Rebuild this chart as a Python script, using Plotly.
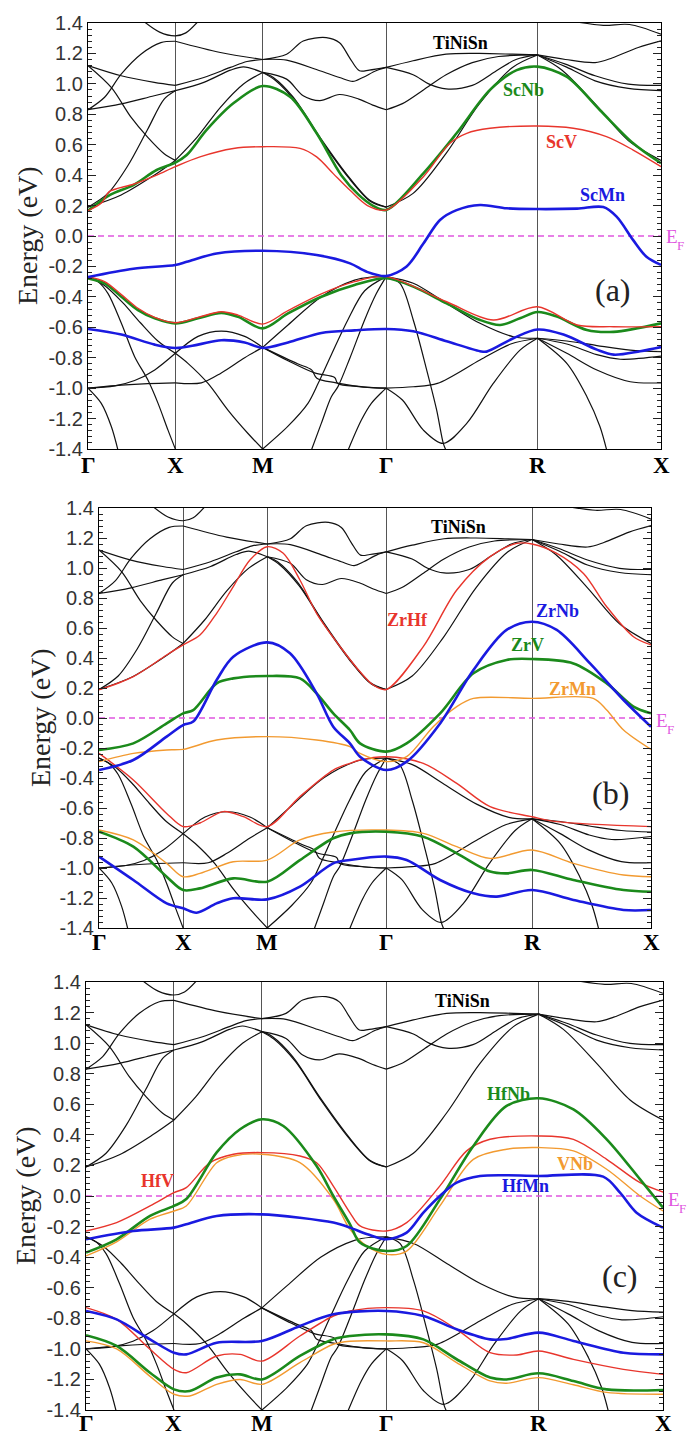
import plotly.graph_objects as go

# ---------------- high-symmetry path ----------------
K_G, K_X, K_M, K_G2, K_R, K_X2 = 0.0, 0.5, 1.0, 1.7071, 2.5731, 3.2802
KPOINT_POS = [K_G, K_X, K_M, K_G2, K_R, K_X2]
KPOINT_LABELS = ["Γ", "X", "M", "Γ", "R", "X"]
ENERGY_TICKS = [1.4, 1.2, 1.0, 0.8, 0.6, 0.4, 0.2, 0.0, -0.2, -0.4, -0.6, -0.8, -1.0, -1.2, -1.4]
ENERGY_TICK_LABELS = ["1.4", "1.2", "1.0", "0.8", "0.6", "0.4", "0.2", "0.0",
                      "-0.2", "-0.4", "-0.6", "-0.8", "-1.0", "-1.2", "-1.4"]

# ---------------- TiNiSn reference bands (k, E) ----------------
tin_gx_a = [(0, 1.12), (0.19, 1.053), (0.379, 1.01), (0.5, 0.99)]
tin_gx_b = [(0, 1.12), (0.133, 0.977), (0.246, 0.781), (0.341, 0.65), (0.436, 0.541), (0.5, 0.497)]
tin_gx_c = [(0, 0.83), (0.095, 0.912), (0.19, 1.064), (0.303, 1.195), (0.417, 1.271), (0.5, 1.28)]
tin_gx_d = [(0, 0.83), (0.19, 0.868), (0.379, 0.922), (0.5, 0.955)]
tin_gx_e = [(0, 0.19), (0.114, 0.28), (0.227, 0.46), (0.341, 0.70), (0.436, 0.90), (0.5, 0.955)]
tin_gx_f = [(0, 0.19), (0.19, 0.27), (0.379, 0.40), (0.5, 0.497)]
tin_x_top = [(0.32, 1.41), (0.41, 1.34), (0.5, 1.315), (0.56, 1.335), (0.63, 1.41)]
tin_gx_g = [(0, -0.267), (0.1, -0.33), (0.2, -0.44), (0.3, -0.57), (0.4, -0.69), (0.5, -0.771)]
tin_gx_h = [(0, -0.267), (0.057, -0.30), (0.114, -0.377), (0.191, -0.574), (0.267, -0.793),
            (0.343, -0.947), (0.401, -1.1), (0.458, -1.276), (0.5, -1.4)]
tin_gx_i = [(0, -1.0), (0.153, -0.985), (0.267, -0.95), (0.382, -0.88), (0.5, -0.771)]
tin_gx_j = [(0, -1.0), (0.191, -0.98), (0.343, -0.97), (0.5, -0.965)]
tin_gx_k = [(0, -1.0), (0.076, -1.1), (0.134, -1.254), (0.172, -1.41)]

tin_xm_a = [(0.5, 1.28), (0.758, 1.206), (1.0, 1.16)]
tin_xm_b = [(0.5, 0.99), (0.663, 1.042), (0.815, 1.108), (0.91, 1.147), (1.0, 1.16)]
tin_xm_c = [(0.5, 0.955), (0.663, 1.01), (0.815, 1.09), (0.89, 1.112), (1.0, 1.075)]
tin_xm_d = [(0.5, 0.497), (0.625, 0.65), (0.758, 0.846), (0.89, 0.999), (1.0, 1.075)]
tin_xm_e = [(0.5, -0.771), (0.63, -0.66), (0.763, -0.625), (0.897, -0.66), (1.0, -0.732)]
tin_xm_f = [(0.5, -0.771), (0.572, -0.837), (0.687, -0.969), (0.801, -1.144), (0.916, -1.298), (1.0, -1.4)]
tin_xm_g = [(0.5, -0.965), (0.649, -0.965), (0.763, -0.90), (0.897, -0.80), (1.0, -0.732)]

tin_mg_a = [(1.0, 1.16), (1.137, 1.195), (1.232, 1.282), (1.364, 1.304), (1.44, 1.27),
            (1.497, 1.173), (1.554, 1.086), (1.61, 1.09), (1.7071, 1.108)]
tin_mg_b = [(1.0, 1.16), (1.137, 1.156), (1.327, 1.086), (1.44, 1.042), (1.516, 1.016),
            (1.573, 1.042), (1.649, 1.086), (1.7071, 1.108)]
tin_mg_c = [(1.0, 1.075), (1.137, 1.031), (1.232, 0.922), (1.327, 0.89), (1.44, 0.93),
            (1.55, 0.90), (1.63, 0.86), (1.7071, 0.83)]
tin_mg_d = [(1.0, 1.075), (1.061, 1.042), (1.175, 0.912), (1.327, 0.65), (1.478, 0.41),
            (1.611, 0.236), (1.7071, 0.19)]
tin_mg_e = [(1.0, 1.075), (1.07, 1.025), (1.19, 0.88), (1.34, 0.62), (1.49, 0.385),
            (1.62, 0.225), (1.7071, 0.19)]
tin_mg_f = [(1.0, -0.732), (1.145, -0.585), (1.336, -0.399), (1.526, -0.29), (1.62, -0.27), (1.7071, -0.267)]
tin_mg_h = [(1.0, -0.732), (1.145, -0.82), (1.297, -0.9), (1.412, -0.93), (1.43, -0.97),
            (1.55, -0.99), (1.7071, -1.0)]
tin_mg_i = [(1.0, -0.732), (1.2, -0.84), (1.28, -0.88), (1.31, -0.935), (1.42, -0.965),
            (1.6, -0.995), (1.7071, -1.0)]
tin_mg_j = [(1.0, -1.4), (1.145, -1.25), (1.259, -1.1), (1.317, -0.97), (1.393, -0.78),
            (1.488, -0.55), (1.584, -0.36), (1.7071, -0.267)]
tin_mg_k = [(1.278, -1.41), (1.336, -1.23), (1.393, -1.056), (1.431, -0.99), (1.5, -0.8),
            (1.584, -0.55), (1.65, -0.38), (1.7071, -0.267)]
tin_mg_l = [(1.488, -1.41), (1.565, -1.21), (1.622, -1.1), (1.679, -1.03), (1.7071, -1.0)]

tin_gr_a = [(1.7071, 1.108), (1.861, 1.152), (2.05, 1.195), (2.24, 1.2), (2.43, 1.195), (2.5731, 1.19)]
tin_gr_b = [(1.7071, 1.108), (1.861, 1.06), (1.95, 1.0), (2.05, 0.967), (2.2, 0.99), (2.33, 1.08),
            (2.45, 1.16), (2.5731, 1.19)]
tin_gr_c = [(1.7071, 0.83), (1.80, 0.87), (1.92, 0.96), (2.05, 1.06), (2.2, 1.14), (2.35, 1.18), (2.5731, 1.19)]
tin_gr_d = [(1.7071, 0.19), (1.861, 0.28), (2.05, 0.543), (2.24, 0.868), (2.43, 1.108), (2.5731, 1.19)]
tin_gr_e = [(1.7071, -0.267), (1.862, -0.311), (2.053, -0.443), (2.244, -0.574), (2.435, -0.662), (2.5731, -0.672)]
tin_gr_f = [(1.7071, -0.267), (1.786, -0.311), (1.862, -0.552), (1.939, -0.881), (1.996, -1.144),
            (2.034, -1.363), (2.05, -1.41)]
tin_gr_g = [(1.7071, -1.0), (1.80, -1.078), (1.92, -1.276), (2.034, -1.363), (2.168, -1.232),
            (2.32, -0.969), (2.473, -0.75), (2.5731, -0.672)]
tin_gr_h = [(1.7071, -1.0), (1.862, -0.991), (2.0, -0.969), (2.244, -0.815), (2.42, -0.71), (2.5731, -0.672)]

tin_rx_a = [(2.5731, 1.19), (2.733, 1.16), (2.903, 1.14), (3.0, 1.17), (3.15, 1.239), (3.2802, 1.282)]
tin_rx_b = [(2.5731, 1.19), (2.733, 1.13), (2.903, 1.053), (3.093, 0.998), (3.2802, 0.99)]
tin_rx_c = [(2.5731, 1.19), (2.74, 1.11), (2.903, 1.02), (3.093, 0.97), (3.2802, 0.955)]
tin_rx_d = [(2.5731, 1.19), (2.714, 1.09), (2.903, 0.868), (3.093, 0.628), (3.2802, 0.497)]
tin_rx_top = [(2.78, 1.41), (2.95, 1.385), (3.1, 1.39), (3.2802, 1.326)]
tin_rx_e = [(2.5731, -0.672), (2.741, -0.69), (2.913, -0.72), (3.104, -0.75), (3.2802, -0.76)]
tin_rx_f = [(2.5731, -0.672), (2.741, -0.71), (2.913, -0.78), (3.047, -0.81), (3.2802, -0.79)]
tin_rx_g = [(2.5731, -0.672), (2.741, -0.771), (2.913, -0.881), (3.104, -0.958), (3.2802, -0.965)]
tin_rx_h = [(2.5731, -0.672), (2.741, -0.837), (2.856, -1.056), (2.93, -1.25), (2.97, -1.41)]

TINISN_BANDS = [tin_gx_a, tin_gx_b, tin_gx_c, tin_gx_d, tin_gx_e, tin_gx_f, tin_x_top,
                tin_gx_g, tin_gx_h, tin_gx_i, tin_gx_j, tin_gx_k,
                tin_xm_a, tin_xm_b, tin_xm_c, tin_xm_d, tin_xm_e, tin_xm_f, tin_xm_g,
                tin_mg_a, tin_mg_b, tin_mg_c, tin_mg_d, tin_mg_e, tin_mg_f, tin_mg_h,
                tin_mg_i, tin_mg_j, tin_mg_k, tin_mg_l,
                tin_gr_a, tin_gr_b, tin_gr_c, tin_gr_d, tin_gr_e, tin_gr_f, tin_gr_g, tin_gr_h,
                tin_rx_a, tin_rx_b, tin_rx_c, tin_rx_d, tin_rx_top, tin_rx_e, tin_rx_f, tin_rx_g, tin_rx_h]

# ---------------- panel (a): Sc-based ----------------
scnb_up = [(0, 0.166), (0.126, 0.27), (0.26, 0.335), (0.393, 0.434), (0.5, 0.482), (0.565, 0.532),
           (0.679, 0.697), (0.832, 0.872), (1.0, 0.986), (1.156, 0.916), (1.309, 0.675), (1.45, 0.40),
           (1.55, 0.27), (1.63, 0.2), (1.7071, 0.171), (1.92, 0.412), (2.11, 0.675), (2.301, 0.96),
           (2.454, 1.09), (2.5731, 1.113), (2.74, 1.047), (2.93, 0.828), (3.121, 0.609), (3.2802, 0.478)]
scnb_lo = [(0, -0.278), (0.095, -0.311), (0.191, -0.399), (0.286, -0.487), (0.382, -0.541), (0.5, -0.574),
           (0.63, -0.541), (0.763, -0.505), (0.859, -0.531), (1.0, -0.607), (1.145, -0.509), (1.336, -0.399),
           (1.526, -0.322), (1.7071, -0.278), (1.862, -0.333), (2.053, -0.443), (2.244, -0.552),
           (2.359, -0.585), (2.473, -0.541), (2.5731, -0.50), (2.684, -0.53), (2.856, -0.618),
           (3.009, -0.63), (3.2802, -0.574)]
scv_up = [(0, 0.166), (0.08, 0.22), (0.12, 0.29), (0.26, 0.34), (0.393, 0.40), (0.5, 0.456), (0.641, 0.52),
          (0.832, 0.575), (1.0, 0.587), (1.214, 0.576), (1.309, 0.52), (1.404, 0.41), (1.5, 0.30),
          (1.6, 0.2), (1.7071, 0.171), (1.92, 0.39), (2.072, 0.61), (2.168, 0.675), (2.301, 0.708),
          (2.5731, 0.723), (2.778, 0.708), (2.968, 0.653), (3.121, 0.565), (3.2802, 0.456)]
scv_lo = [(0, -0.267), (0.095, -0.30), (0.191, -0.385), (0.286, -0.475), (0.382, -0.535), (0.5, -0.57),
          (0.63, -0.535), (0.763, -0.498), (0.859, -0.52), (1.0, -0.579), (1.145, -0.49), (1.336, -0.38),
          (1.526, -0.30), (1.7071, -0.267), (2.053, -0.432), (2.32, -0.552), (2.5731, -0.465),
          (2.80, -0.585), (3.009, -0.596), (3.2802, -0.596)]
scmn_up = [(0, -0.27), (0.26, -0.215), (0.5, -0.19), (0.565, -0.17), (0.736, -0.115), (1.0, -0.097),
           (1.309, -0.125), (1.5, -0.18), (1.595, -0.235), (1.7071, -0.263), (1.824, -0.2), (1.92, -0.05),
           (2.015, 0.105), (2.11, 0.17), (2.244, 0.204), (2.397, 0.182), (2.5731, 0.177), (2.80, 0.18),
           (2.95, 0.19), (3.026, 0.127), (3.121, -0.027), (3.197, -0.136), (3.2802, -0.19)]
scmn_lo = [(0, -0.611), (0.191, -0.648), (0.382, -0.714), (0.5, -0.736), (0.63, -0.714), (0.763, -0.685),
           (0.897, -0.70), (1.0, -0.736), (1.145, -0.70), (1.336, -0.637), (1.526, -0.62), (1.7071, -0.611),
           (1.862, -0.626), (2.053, -0.692), (2.244, -0.757), (2.282, -0.76), (2.435, -0.672),
           (2.5731, -0.615), (2.722, -0.648), (2.913, -0.747), (3.009, -0.78), (3.161, -0.757), (3.2802, -0.73)]

# ---------------- panel (b): Zr-based ----------------
zrhf_up = [(0, 0.187), (0.204, 0.276), (0.402, 0.42), (0.5, 0.487), (0.6, 0.553), (0.699, 0.698),
           (0.798, 0.876), (0.897, 1.053), (1.0, 1.142), (1.095, 1.098), (1.194, 0.92), (1.293, 0.698),
           (1.45, 0.45), (1.55, 0.31), (1.63, 0.22), (1.7071, 0.19), (1.927, 0.476), (2.126, 0.853),
           (2.324, 1.076), (2.482, 1.164), (2.5731, 1.16), (2.72, 1.098), (2.879, 0.964), (3.017, 0.742),
           (3.176, 0.542), (3.2802, 0.487)]
zrhf_lo = [(0, -0.236), (0.204, -0.413), (0.402, -0.636), (0.5, -0.724), (0.6, -0.70), (0.739, -0.624),
           (0.858, -0.658), (1.0, -0.724), (1.194, -0.524), (1.392, -0.347), (1.491, -0.302), (1.55, -0.28),
           (1.7071, -0.258), (1.927, -0.302), (2.126, -0.436), (2.324, -0.591), (2.5731, -0.658),
           (2.72, -0.691), (3.2802, -0.724)]
zrnb_up = [(0, -0.347), (0.204, -0.28), (0.402, -0.124), (0.5, -0.047), (0.56, -0.024), (0.699, 0.253),
           (0.798, 0.409), (1.0, 0.504), (1.135, 0.431), (1.293, 0.164), (1.392, -0.058), (1.491, -0.169),
           (1.551, -0.258), (1.7071, -0.347), (1.828, -0.291), (2.027, -0.036), (2.225, 0.32), (2.422, 0.587),
           (2.5731, 0.642), (2.72, 0.587), (2.918, 0.364), (3.117, 0.12), (3.2802, -0.058)]
zrnb_lo = [(0, -0.924), (0.204, -1.08), (0.402, -1.236), (0.5, -1.269), (0.58, -1.298), (0.699, -1.236),
           (0.798, -1.202), (1.0, -1.209), (1.194, -1.124), (1.392, -0.969), (1.491, -0.947), (1.7071, -0.924),
           (1.828, -0.947), (2.027, -1.08), (2.225, -1.169), (2.363, -1.191), (2.5731, -1.147),
           (2.819, -1.213), (3.117, -1.28), (3.2802, -1.28)]
zrv_up = [(0, -0.213), (0.204, -0.169), (0.402, -0.036), (0.5, 0.031), (0.56, 0.053), (0.699, 0.231),
          (0.798, 0.264), (1.0, 0.28), (1.194, 0.264), (1.293, 0.164), (1.392, 0.031), (1.491, -0.08),
          (1.551, -0.169), (1.7071, -0.224), (1.828, -0.169), (2.027, 0.031), (2.225, 0.298), (2.422, 0.387),
          (2.5731, 0.393), (2.819, 0.364), (3.017, 0.231), (3.176, 0.076), (3.2802, 0.031)]
zrv_lo = [(0, -0.758), (0.204, -0.858), (0.402, -1.058), (0.5, -1.147), (0.6, -1.136), (0.798, -1.069),
          (1.0, -1.091), (1.194, -0.947), (1.392, -0.802), (1.491, -0.769), (1.7071, -0.758), (1.927, -0.791),
          (2.126, -0.902), (2.324, -1.024), (2.422, -1.036), (2.5731, -1.013), (2.819, -1.08),
          (3.117, -1.147), (3.2802, -1.158)]
zrmn_up = [(0, -0.291), (0.204, -0.236), (0.402, -0.213), (0.5, -0.209), (0.699, -0.147), (1.0, -0.124),
           (1.293, -0.147), (1.491, -0.191), (1.551, -0.236), (1.7071, -0.291), (1.828, -0.258),
           (1.986, -0.058), (2.126, 0.076), (2.225, 0.131), (2.5731, 0.131), (2.937, 0.131), (3.017, 0.053),
           (3.117, -0.08), (3.2802, -0.209)]
zrmn_lo = [(0, -0.747), (0.204, -0.813), (0.402, -0.969), (0.5, -1.058), (0.6, -1.036), (0.798, -0.958),
           (1.0, -0.947), (1.194, -0.813), (1.392, -0.76), (1.7071, -0.747), (1.927, -0.769), (2.126, -0.858),
           (2.324, -0.936), (2.5731, -0.88), (2.819, -0.969), (3.117, -1.047), (3.2802, -1.058)]

# ---------------- panel (c): Hf / V based ----------------
hfnb_up = [(0, -0.37), (0.174, -0.283), (0.364, -0.13), (0.5, -0.065), (0.57, -0.02), (0.743, 0.285),
           (0.876, 0.437), (1.0, 0.502), (1.122, 0.458), (1.311, 0.196), (1.406, 0.0), (1.501, -0.185),
           (1.558, -0.305), (1.7071, -0.36), (1.823, -0.327), (2.012, -0.022), (2.202, 0.327), (2.391, 0.589),
           (2.5731, 0.639), (2.771, 0.567), (2.96, 0.371), (3.15, 0.109), (3.2802, -0.076)]
hfnb_lo = [(0, -0.911), (0.174, -0.981), (0.364, -1.156), (0.5, -1.265), (0.59, -1.276), (0.743, -1.188),
           (0.876, -1.167), (1.0, -1.2), (1.216, -1.046), (1.406, -0.937), (1.501, -0.916), (1.7071, -0.905),
           (1.918, -0.938), (2.107, -1.068), (2.297, -1.188), (2.391, -1.2), (2.5731, -1.16), (2.771, -1.21),
           (2.96, -1.265), (3.2802, -1.269)]
hfv_up = [(0, -0.229), (0.174, -0.174), (0.364, -0.065), (0.5, 0.022), (0.57, 0.055), (0.705, 0.218),
          (0.838, 0.273), (1.0, 0.284), (1.216, 0.262), (1.311, 0.218), (1.406, 0.065), (1.501, -0.11),
          (1.558, -0.196), (1.7071, -0.229), (1.823, -0.174), (2.012, 0.066), (2.164, 0.295), (2.297, 0.371),
          (2.5731, 0.393), (2.771, 0.371), (2.96, 0.24), (3.15, 0.087), (3.2802, 0.026)]
hfv_lo = [(0, -0.73), (0.174, -0.807), (0.364, -1.003), (0.5, -1.134), (0.57, -1.156), (0.743, -1.047),
          (0.876, -1.036), (1.0, -1.08), (1.216, -0.916), (1.406, -0.785), (1.501, -0.752), (1.7071, -0.73),
          (1.918, -0.752), (2.107, -0.872), (2.297, -1.025), (2.45, -1.04), (2.5731, -1.014), (2.771, -1.069),
          (3.055, -1.134), (3.2802, -1.167)]
vnb_up = [(0, -0.392), (0.174, -0.30), (0.364, -0.152), (0.5, -0.098), (0.57, -0.065), (0.743, 0.218),
          (0.838, 0.262), (1.0, 0.273), (1.216, 0.218), (1.406, -0.022), (1.501, -0.218), (1.60, -0.33),
          (1.7071, -0.382), (1.823, -0.36), (2.012, -0.065), (2.202, 0.24), (2.391, 0.306), (2.5731, 0.317),
          (2.771, 0.295), (2.96, 0.175), (3.15, 0.0), (3.2802, -0.098)]
vnb_lo = [(0, -0.948), (0.174, -1.0), (0.364, -1.18), (0.5, -1.297), (0.59, -1.308), (0.743, -1.232),
          (0.876, -1.2), (1.0, -1.232), (1.216, -1.09), (1.406, -0.97), (1.501, -0.95), (1.7071, -0.948),
          (1.918, -0.96), (2.107, -1.09), (2.297, -1.21), (2.391, -1.225), (2.5731, -1.188), (2.771, -1.235),
          (2.96, -1.285), (3.2802, -1.297)]
hfmn_up = [(0, -0.283), (0.269, -0.229), (0.5, -0.207), (0.57, -0.185), (0.743, -0.131), (1.0, -0.12),
           (1.216, -0.142), (1.406, -0.174), (1.501, -0.207), (1.60, -0.25), (1.7071, -0.283), (1.823, -0.24),
           (1.918, -0.109), (2.012, 0.0), (2.107, 0.087), (2.24, 0.131), (2.5731, 0.131), (2.94, 0.127),
           (3.036, 0.022), (3.13, -0.109), (3.2802, -0.207)]
hfmn_lo = [(0, -0.752), (0.174, -0.807), (0.364, -0.938), (0.5, -1.025), (0.57, -1.036), (0.743, -0.96),
           (1.0, -0.948), (1.216, -0.85), (1.406, -0.774), (1.7071, -0.752), (1.918, -0.785), (2.107, -0.872),
           (2.297, -0.938), (2.391, -0.935), (2.5731, -0.894), (2.771, -0.948), (3.055, -1.025), (3.2802, -1.036)]

# ---------------- styling ----------------
GREEN, RED, BLUE, ORANGE, MAGENTA = "#1b8a1b", "#e8352c", "#1a1ae0", "#f29a30", "#e055e0"
SERIF = "Liberation Serif, Times New Roman, serif"
SANS = "Liberation Sans, Arial, sans-serif"
W, H = 687, 1436

# pixel frames of the three panels: (left, right, top, bottom)
FRAMES = [(88, 661, 23, 449), (99, 651, 508, 928), (86, 663, 982, 1410)]

PANELS = [
    dict(bands=[(scnb_up, scnb_lo, GREEN, 2.6), (scv_up, scv_lo, RED, 1.4), (scmn_up, scmn_lo, BLUE, 2.6)],
         labels=[("TiNiSn", 460, 43, "black"), ("ScNb", 523, 90, GREEN), ("ScV", 561, 142, RED),
                 ("ScMn", 602, 195, BLUE)],
         letter=("(a)", 613, 290), title_x=28, ef=(665, 237), klabel_y=465),
    dict(bands=[(zrhf_up, zrhf_lo, RED, 1.4), (zrmn_up, zrmn_lo, ORANGE, 1.4),
                (zrv_up, zrv_lo, GREEN, 2.6), (zrnb_up, zrnb_lo, BLUE, 2.6)],
         labels=[("TiNiSn", 458, 527, "black"), ("ZrHf", 407, 620, RED), ("ZrNb", 557, 611, BLUE),
                 ("ZrV", 527, 645, GREEN), ("ZrMn", 572, 689, ORANGE)],
         letter=("(b)", 610, 793), title_x=40, ef=(655, 720), klabel_y=942),
    dict(bands=[(vnb_up, vnb_lo, ORANGE, 1.4), (hfv_up, hfv_lo, RED, 1.4),
                (hfnb_up, hfnb_lo, GREEN, 2.6), (hfmn_up, hfmn_lo, BLUE, 2.6)],
         labels=[("TiNiSn", 462, 1001, "black"), ("HfNb", 508, 1094, GREEN), ("VNb", 575, 1164, ORANGE),
                 ("HfMn", 525, 1186, BLUE), ("HfV", 157, 1181, RED)],
         letter=("(c)", 620, 1276), title_x=25, ef=(667, 1199), klabel_y=1423),
]


def join(segments):
    xs, ys = [], []
    for seg in segments:
        for k, e in seg:
            xs.append(k)
            ys.append(e)
        xs.append(None)
        ys.append(None)
    return xs, ys


fig = go.Figure()
annotations = []
layout_axes = {}

for i, (panel, frame) in enumerate(zip(PANELS, FRAMES), start=1):
    left, right, top, bottom = frame
    xa, ya = f"x{i}", f"y{i}"
    sfx = "" if i == 1 else str(i)

    bx, by = join(TINISN_BANDS)
    fig.add_trace(go.Scatter(x=bx, y=by, mode="lines", xaxis=xa, yaxis=ya,
                             line=dict(color="#111111", width=1.2, shape="spline", smoothing=0.9),
                             connectgaps=False, showlegend=False, hoverinfo="skip"))
    fig.add_trace(go.Scatter(x=[K_G, K_X2], y=[0, 0], mode="lines", xaxis=xa, yaxis=ya,
                             line=dict(color=MAGENTA, width=1.3, dash="6px,4px"),
                             showlegend=False, hoverinfo="skip"))
    for up, lo, color, width in panel["bands"]:
        cx, cy = join([up, lo])
        fig.add_trace(go.Scatter(x=cx, y=cy, mode="lines", xaxis=xa, yaxis=ya,
                                 line=dict(color=color, width=width, shape="spline", smoothing=0.9),
                                 connectgaps=False, showlegend=False, hoverinfo="skip"))

    layout_axes["xaxis" + sfx] = dict(
        domain=[left / W, right / W], range=[K_G, K_X2], anchor=ya, automargin=False,
        tickmode="array", tickvals=KPOINT_POS, ticks="", showticklabels=False,
        showgrid=True, gridcolor="#555555", gridwidth=1.2, zeroline=False,
        showline=True, linecolor="black", linewidth=1.3, mirror=True, fixedrange=True)
    layout_axes["yaxis" + sfx] = dict(
        domain=[1 - bottom / H, 1 - top / H], range=[-1.4, 1.4], anchor=xa, automargin=False,
        tickmode="array", tickvals=ENERGY_TICKS, ticktext=ENERGY_TICK_LABELS,
        ticks="inside", ticklen=8, tickwidth=1.2, tickcolor="#222",
        minor=dict(dtick=0.04, tick0=0, ticks="inside", ticklen=4, tickwidth=1, tickcolor="#222"),
        tickfont=dict(family=SANS, size=20, color="#333"),
        showgrid=False, zeroline=False,
        showline=True, linecolor="black", linewidth=1.3, mirror="allticks", fixedrange=True)

    # k-point labels under each panel, placed through the x axis scale
    for kpos, klab in zip(KPOINT_POS, KPOINT_LABELS):
        annotations.append(dict(text=klab, x=kpos, xref=xa, y=1 - panel["klabel_y"] / H, yref="paper",
                                showarrow=False, font=dict(family=SERIF, size=23, color="black", weight="bold"),
                                xanchor="center", yanchor="middle"))

    annotations.append(dict(text="Energy (eV)", x=panel["title_x"] / W, y=1 - (top + bottom) / 2 / H,
                            xref="paper", yref="paper", showarrow=False, textangle=-90,
                            font=dict(family=SERIF, size=28, color="#222"),
                            xanchor="center", yanchor="middle"))
    for text, px, py, color in panel["labels"]:
        annotations.append(dict(text=text, x=px / W, y=1 - py / H, xref="paper", yref="paper",
                                showarrow=False, font=dict(family=SERIF, size=18, color=color, weight="bold"),
                                xanchor="center", yanchor="middle"))
    lt, lx, ly = panel["letter"]
    annotations.append(dict(text=lt, x=lx / W, y=1 - ly / H, xref="paper", yref="paper", showarrow=False,
                            font=dict(family=SERIF, size=32, color="#222"), xanchor="center", yanchor="middle"))
    ex, ey = panel["ef"]
    annotations.append(dict(text="E", x=ex / W, y=1 - ey / H, xref="paper", yref="paper",
                            showarrow=False, font=dict(family=SERIF, size=19, color=MAGENTA),
                            xanchor="left", yanchor="middle", borderpad=0))
    annotations.append(dict(text="F", x=(ex + 11) / W, y=1 - (ey + 9) / H, xref="paper", yref="paper",
                            showarrow=False, font=dict(family=SERIF, size=13, color=MAGENTA),
                            xanchor="left", yanchor="middle", borderpad=0))

fig.update_layout(width=W, height=H, margin=dict(l=0, r=0, t=0, b=0),
                  paper_bgcolor="white", plot_bgcolor="white",
                  annotations=annotations, **layout_axes)

# remove the default 8px page margin so the figure sits at the window's top-left corner
fig.write_html("out.html", config={"displayModeBar": False},
               post_script="document.body.style.margin='0px';document.body.style.overflow='hidden';")
